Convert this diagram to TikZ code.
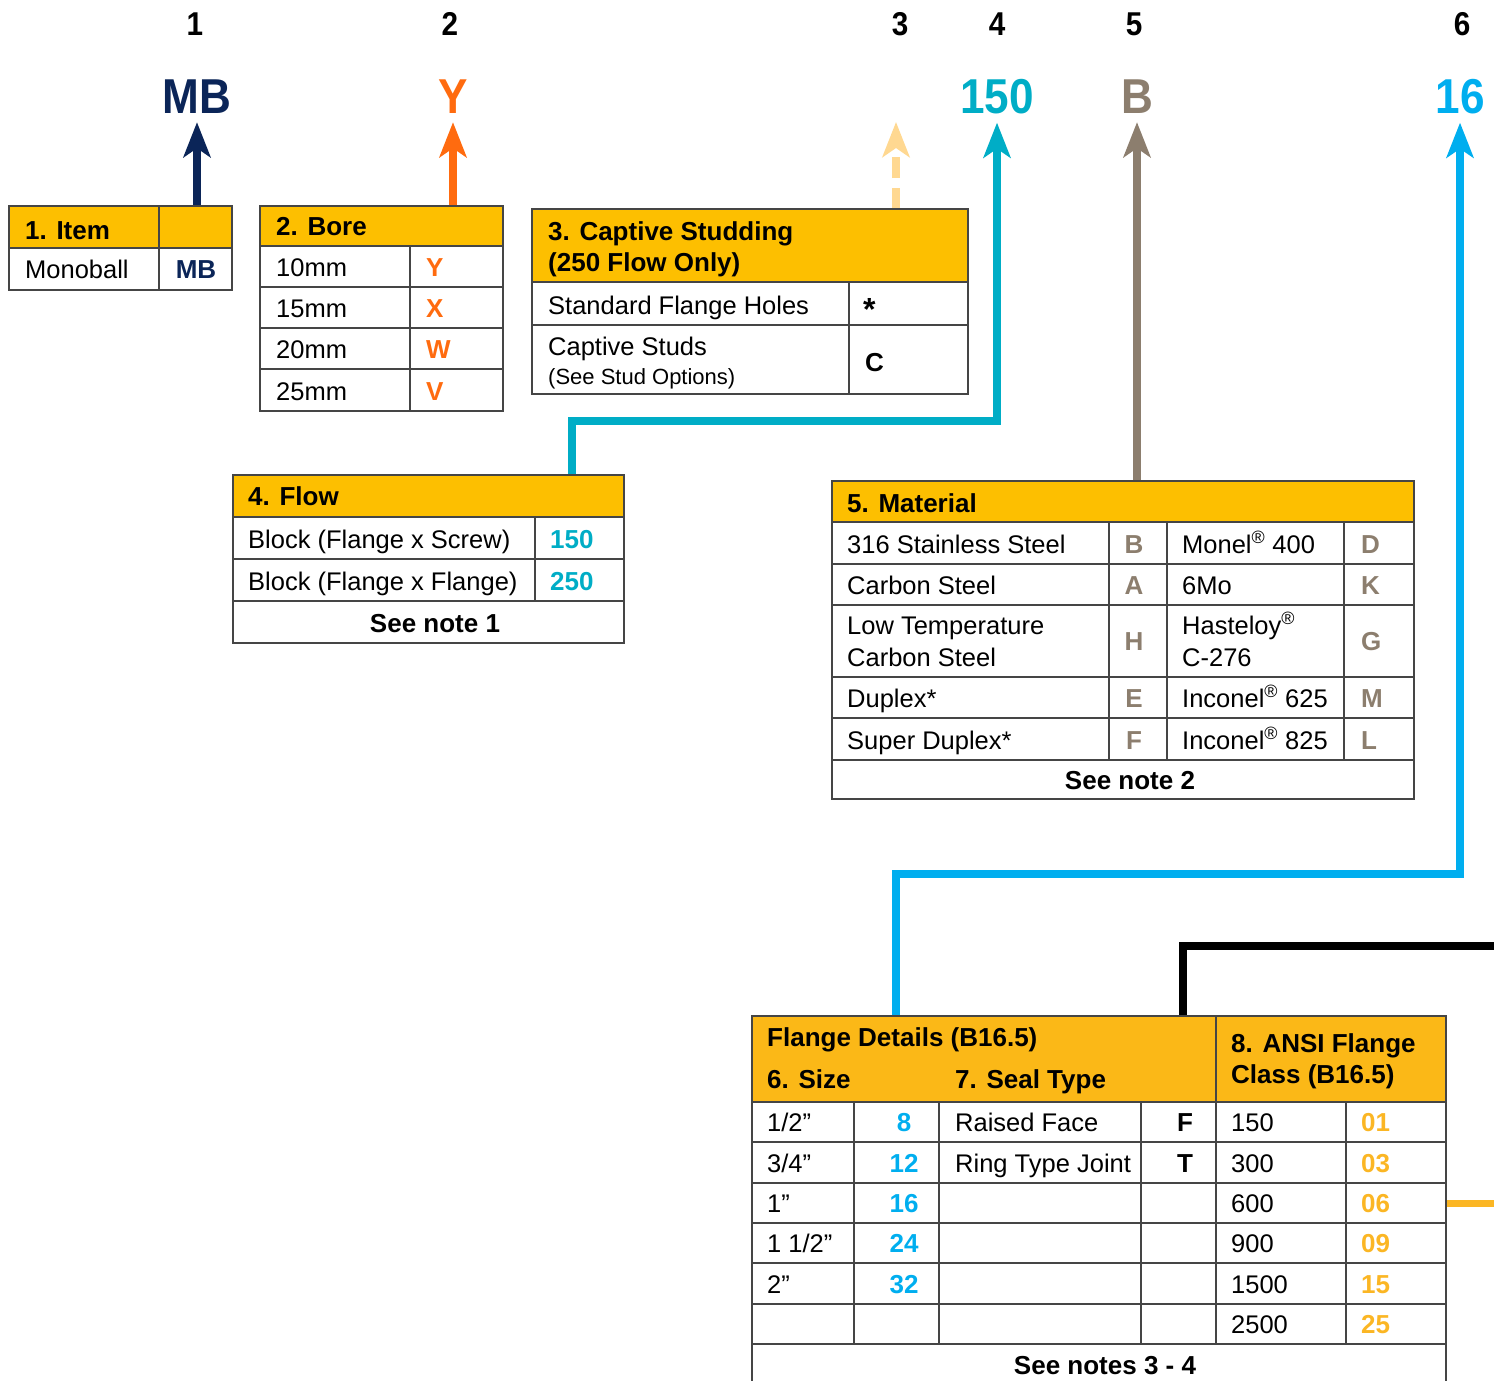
\documentclass[tikz,border=0pt]{standalone}
\usepackage{fontspec}
\setmainfont{Liberation Sans}
\newfontfamily\dinfont[FakeStretch=0.9]{Liberation Sans}
\usetikzlibrary{arrows.meta}
\definecolor{hdrA}{HTML}{FDBF00}
\definecolor{hdrB}{HTML}{FBB817}
\definecolor{navy}{HTML}{0B2558}
\definecolor{orng}{HTML}{FF6B0F}
\definecolor{pale}{HTML}{FFD891}
\definecolor{teal}{HTML}{00ADC6}
\definecolor{taupe}{HTML}{8C7E6E}
\definecolor{sky}{HTML}{00AEEF}
\definecolor{gold}{HTML}{FBB624}
\definecolor{gridc}{HTML}{454545}
\tikzset{
  txt/.style={inner sep=0, anchor=base west, font=\fontsize{25.5}{30}\selectfont},
  smalltxt/.style={inner sep=0, anchor=base west, font=\fontsize{22}{26}\selectfont},
  bld/.style={inner sep=0, anchor=base west, font=\fontsize{26}{30}\selectfont\bfseries},
  bldc/.style={inner sep=0, anchor=base, font=\fontsize{26}{30}\selectfont\bfseries},
  gridline/.style={draw=gridc, line width=1.6pt},
  conn/.style={line width=8pt, -{Stealth[length=35pt,width=27pt,inset=9pt]}},
  toplab/.style={inner sep=0, anchor=base, font=\dinfont\fontsize{33}{36}\selectfont\bfseries},
  codelab/.style={inner sep=0, anchor=base, font=\dinfont\fontsize{49}{52}\selectfont\bfseries}
}
\begin{document}
\begin{tikzpicture}[x=1pt,y=-1pt]
\useasboundingbox (0,0) rectangle (1494,1381);

% ---------- top labels ----------
\node[toplab] (n1) at (195,36) {1};
\node[toplab] (n2) at (450,36) {2};
\node[toplab] (n3) at (900,36) {3};
\node[toplab] (n4) at (997,36) {4};
\node[toplab] (n5) at (1134,36) {5};
\node[toplab] (n6) at (1462,36) {6};

\node[codelab, text=navy] (lMB) at (197,113) {MB};
\node[codelab, text=orng] (lY) at (453,113) {Y};
\node[codelab, text=teal] (l150) at (997,113) {150};
\node[codelab, text=taupe] (lB) at (1137,113) {B};
\node[codelab, text=sky] (l16) at (1460,113) {16};
\coordinate (tip3) at (896,122);

% ---------- table frames (named nodes) ----------
\node[inner sep=0, outer sep=0, minimum width=223, minimum height=84] (t1) at (120.5,248) {};
\node[inner sep=0, outer sep=0, minimum width=243, minimum height=205] (t2) at (381.5,308.5) {};
\node[inner sep=0, outer sep=0, minimum width=436, minimum height=185] (t3) at (750,301.5) {};
\node[inner sep=0, outer sep=0, minimum width=391, minimum height=168] (t4) at (428.5,559) {};
\node[inner sep=0, outer sep=0, minimum width=582, minimum height=318] (t5) at (1123,640) {};
\node[inner sep=0, outer sep=0, minimum width=694, minimum height=370] (t6) at (1099,1201) {};

% ---------- connectors ----------
\draw[conn, navy] (t1.north -| lMB) -- ([yshift=-9pt]lMB.south);
\draw[conn, orng] (t2.north -| lY) -- ([yshift=-9pt]lY.south);
\draw[conn, pale, dash pattern=on 21pt off 10pt] (t3.north -| tip3) -- (tip3);
\coordinate (k4) at (572,421);
\draw[conn, teal] (t4.north -| k4) -- (k4) -- (k4 -| l150) -- ([yshift=-9pt]l150.south);
\draw[conn, taupe] (t5.north -| lB) -- ([yshift=-9pt]lB.south);
\coordinate (k6) at (896,874);
\draw[conn, sky] (t6.north -| k6) -- (k6) -- (k6 -| l16) -- ([yshift=-9pt]l16.south);
\coordinate (k7) at (1183,946);
\coordinate (e7) at (1500,946);
\draw[line width=8pt, black] (t6.north -| k7) -- (k7) -- (e7);
\coordinate (e8) at (1500,1203);
\draw[line width=7pt, gold] (t6.east |- e8) -- (e8);

% ---------- Table 1 ----------
\fill[hdrA] (9,206) rectangle (232,248);
\draw[gridline] (9,248) -- (232,248) (159,206) -- (159,290);
\draw[gridline] (9,206) rectangle (232,290);
\node[bld] (t1h) at (25,239) {1. Item};
\node[txt] (t1a) at (25,278) {Monoball};
\node[bldc, text=navy] (t1c) at (196,278) {MB};

% ---------- Table 2 ----------
\fill[hdrA] (260,206) rectangle (503,246);
\draw[gridline] (260,246) -- (503,246) (260,287) -- (503,287) (260,328) -- (503,328) (260,369) -- (503,369) (410,246) -- (410,411);
\draw[gridline] (260,206) rectangle (503,411);
\node[bld] (t2h) at (276,235) {2. Bore};
\node[txt] (t2a) at (276,276) {10mm};
\node[txt] (t2b) at (276,317) {15mm};
\node[txt] (t2c) at (276,358) {20mm};
\node[txt] (t2d) at (276,400) {25mm};
\node[bld, text=orng] (t2ac) at (426,276) {Y};
\node[bld, text=orng] (t2bc) at (426,317) {X};
\node[bld, text=orng] (t2cc) at (426,358) {W};
\node[bld, text=orng] (t2dc) at (426,400) {V};

% ---------- Table 3 ----------
\fill[hdrA] (532,209) rectangle (968,282);
\draw[gridline] (532,282) -- (968,282) (532,325) -- (968,325) (849,282) -- (849,394);
\draw[gridline] (532,209) rectangle (968,394);
\node[bld] (t3h1) at (548,240) {3. Captive Studding};
\node[bld] (t3h2) at (548,271) {(250 Flow Only)};
\node[txt] (t3a) at (548,314) {Standard Flange Holes};
\node[inner sep=0, anchor=base west, font=\fontsize{32}{34}\selectfont\bfseries] (t3ac) at (863,320) {*};
\node[txt] (t3b) at (548,355) {Captive Studs};
\node[smalltxt] (t3b2) at (548,384) {(See Stud Options)};
\node[bld] (t3bc) at (865,371) {C};

% ---------- Table 4 ----------
\fill[hdrA] (233,475) rectangle (624,517);
\draw[gridline] (233,517) -- (624,517) (233,559) -- (624,559) (233,601) -- (624,601) (535,517) -- (535,601);
\draw[gridline] (233,475) rectangle (624,643);
\node[bld] (t4h) at (248,505) {4. Flow};
\node[txt] (t4a) at (248,548) {Block (Flange x Screw)};
\node[txt] (t4b) at (248,590) {Block (Flange x Flange)};
\node[bld, text=teal] (t4ac) at (550,548) {150};
\node[bld, text=teal] (t4bc) at (550,590) {250};
\node[bldc] (t4n) at (435,632) {See note 1};

% ---------- Table 5 ----------
\fill[hdrA] (832,481) rectangle (1414,522);
\draw[gridline] (832,522) -- (1414,522) (832,564) -- (1414,564) (832,605) -- (1414,605) (832,677) -- (1414,677) (832,718) -- (1414,718) (832,760) -- (1414,760)
  (1109,522) -- (1109,760) (1167,522) -- (1167,760) (1344,522) -- (1344,760);
\draw[gridline] (832,481) rectangle (1414,799);
\node[bld] (t5h) at (847,512) {5. Material};
\node[txt] (m1) at (847,553) {316 Stainless Steel};
\node[txt] (m2) at (847,594) {Carbon Steel};
\node[txt] (m3) at (847,634) {Low Temperature};
\node[txt] (m3b) at (847,666) {Carbon Steel};
\node[txt] (m4) at (847,707) {Duplex*};
\node[txt] (m5) at (847,749) {Super Duplex*};
\node[bldc, text=taupe] (m1c) at (1134,553) {B};
\node[bldc, text=taupe] (m2c) at (1134,594) {A};
\node[bldc, text=taupe] (m3c) at (1134,650) {H};
\node[bldc, text=taupe] (m4c) at (1134,707) {E};
\node[bldc, text=taupe] (m5c) at (1134,749) {F};
\node[txt] (r1) at (1182,553) {Monel\textsuperscript{®} 400};
\node[txt] (r2) at (1182,594) {6Mo};
\node[txt] (r3) at (1182,634) {Hasteloy\textsuperscript{®}};
\node[txt] (r3b) at (1182,666) {C-276};
\node[txt] (r4) at (1182,707) {Inconel\textsuperscript{®} 625};
\node[txt] (r5) at (1182,749) {Inconel\textsuperscript{®} 825};
\node[bld, text=taupe] (r1c) at (1361,553) {D};
\node[bld, text=taupe] (r2c) at (1361,594) {K};
\node[bld, text=taupe] (r3c) at (1361,650) {G};
\node[bld, text=taupe] (r4c) at (1361,707) {M};
\node[bld, text=taupe] (r5c) at (1361,749) {L};
\node[bldc] (t5n) at (1130,789) {See note 2};

% ---------- Table 6/7/8 ----------
\fill[hdrB] (752,1016) rectangle (1446,1102);
\draw[gridline] (1216,1016) -- (1216,1102);
\foreach \yy in {1102,1142,1183,1223,1263,1304,1344} {\draw[gridline] (752,\yy) -- (1446,\yy);}
\foreach \xx in {854,939,1141,1216,1346} {\draw[gridline] (\xx,1102) -- (\xx,1344);}
\draw[gridline] (752,1016) rectangle (1446,1386);
\node[bld] (fh) at (767,1046) {Flange Details (B16.5)};
\node[bld] (sh) at (767,1088) {6. Size};
\node[bld] (seh) at (955,1088) {7. Seal Type};
\node[bld] (ch1) at (1231,1052) {8. ANSI Flange};
\node[bld] (ch2) at (1231,1083) {Class (B16.5)};
\node[txt] (s1) at (767,1131) {1/2”};
\node[txt] (s2) at (767,1172) {3/4”};
\node[txt] (s3) at (767,1212) {1”};
\node[txt] (s4) at (767,1252) {1 1/2”};
\node[txt] (s5) at (767,1293) {2”};
\node[bldc, text=sky] (s1c) at (904,1131) {8};
\node[bldc, text=sky] (s2c) at (904,1172) {12};
\node[bldc, text=sky] (s3c) at (904,1212) {16};
\node[bldc, text=sky] (s4c) at (904,1252) {24};
\node[bldc, text=sky] (s5c) at (904,1293) {32};
\node[txt] (se1) at (955,1131) {Raised Face};
\node[txt] (se2) at (955,1172) {Ring Type Joint};
\node[bldc] (se1c) at (1185,1131) {F};
\node[bldc] (se2c) at (1185,1172) {T};
\node[txt] (c1) at (1231,1131) {150};
\node[txt] (c2) at (1231,1172) {300};
\node[txt] (c3) at (1231,1212) {600};
\node[txt] (c4) at (1231,1252) {900};
\node[txt] (c5) at (1231,1293) {1500};
\node[txt] (c6) at (1231,1333) {2500};
\node[bld, text=gold] (c1c) at (1361,1131) {01};
\node[bld, text=gold] (c2c) at (1361,1172) {03};
\node[bld, text=gold] (c3c) at (1361,1212) {06};
\node[bld, text=gold] (c4c) at (1361,1252) {09};
\node[bld, text=gold] (c5c) at (1361,1293) {15};
\node[bld, text=gold] (c6c) at (1361,1333) {25};
\node[bldc] (fn) at (1105,1374) {See notes 3 - 4};
\end{tikzpicture}
\end{document}
